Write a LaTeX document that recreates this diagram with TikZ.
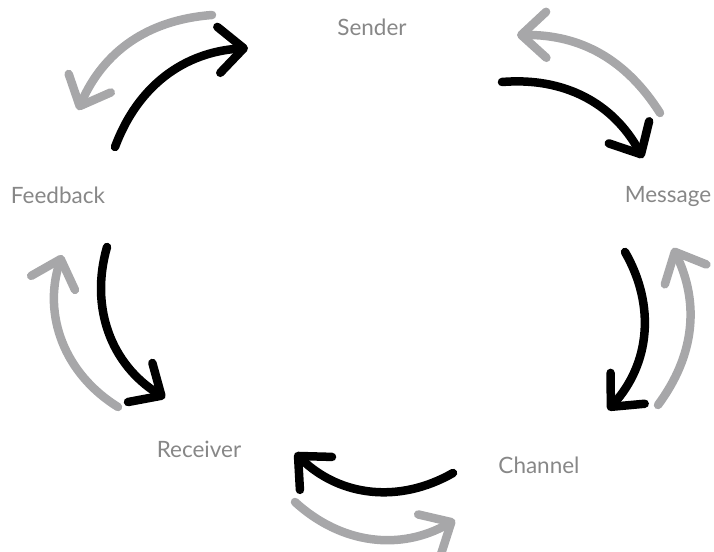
\documentclass[tikz,border=0pt]{standalone}
\usepackage{fontspec}
\setmainfont{Lato}
\usetikzlibrary{arrows.meta}
\definecolor{arrgrey}{HTML}{A7A7A9}
\definecolor{txtgrey}{HTML}{878787}
\begin{document}
\begin{tikzpicture}[x=1pt,y=-1pt,
  lbl/.style={text=txtgrey, font=\fontsize{22.5}{26}\selectfont, anchor=base, inner sep=0pt},
  arr/.style={line width=8.5pt, line cap=round, -{Straight Barb[length=25pt, width=46pt, round]}},
  blk/.style={arr, draw=black},
  gry/.style={arr, draw=arrgrey}]
\useasboundingbox (0,0) rectangle (714,551);
% labels
\node[lbl] (sender) at (372,36) {Sender};
\node[lbl] (message) at (668,202) {Message};
\node[lbl] (channel) at (539,473) {Channel};
\node[lbl] (receiver) at (199,457) {Receiver};
\node[lbl] (feedback) at (58,203) {Feedback};
% arrow end points
\coordinate (b1s) at (115,147); \coordinate (b1e) at (248,48);
\coordinate (g1s) at (212,15);  \coordinate (g1e) at (78,110);
\coordinate (b2s) at (502,82);  \coordinate (b2e) at (643,158);
\coordinate (g2s) at (660,113); \coordinate (g2e) at (517,35);
\coordinate (b3s) at (625,252); \coordinate (b3e) at (608,410);
\coordinate (g3s) at (658,405); \coordinate (g3e) at (673,248);
\coordinate (b4s) at (453,473); \coordinate (b4e) at (295,453);
\coordinate (g4s) at (295,502); \coordinate (g4e) at (455,520);
\coordinate (b5s) at (107,247); \coordinate (b5e) at (165,398);
\coordinate (g5s) at (118,407); \coordinate (g5e) at (62,255);
% arrows
\draw[gry] (g1s) to[bend right=31] (g1e);
\draw[blk] (b1s) to[bend left=33] (b1e);
\draw[gry] (g2s) to[bend right=29] (g2e);
\draw[blk] (b2s) to[bend left=33] (b2e);
\draw[blk] (b3s) to[bend left=36] (b3e);
\draw[gry] (g3s) to[bend right=31] (g3e);
\draw[blk] (b4s) to[bend left=37] (b4e);
\draw[gry] (g4s) to[bend right=36] (g4e);
\draw[blk] (b5s) to[bend right=37] (b5e);
\draw[gry] (g5s) to[bend left=38] (g5e);
\end{tikzpicture}
\end{document}
